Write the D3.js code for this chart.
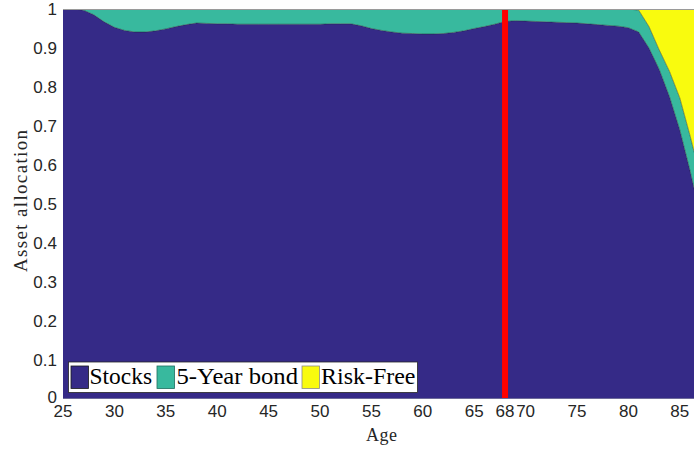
<!DOCTYPE html>
<html>
<head>
<meta charset="utf-8">
<script src="https://cdn.jsdelivr.net/npm/d3@7"></script>
<style>
  html, body { margin: 0; padding: 0; background: #fff; }
  svg { display: block; }
</style>
</head>
<body>
<svg id="chart" width="694" height="454"></svg>
<script>
// Life-cycle portfolio: share of wealth in each asset by age
const ages = d3.range(25, 88);
const stocks = [
  1.000, 1.000, 0.997, 0.985, 0.967, 0.953, 0.945, 0.941, 0.941, 0.944,
  0.949, 0.955, 0.960, 0.964, 0.963, 0.962, 0.962, 0.961, 0.961, 0.961,
  0.961, 0.961, 0.961, 0.961, 0.961, 0.961, 0.962, 0.962, 0.962, 0.957,
  0.950, 0.945, 0.941, 0.938, 0.937, 0.936, 0.936, 0.937, 0.940, 0.944,
  0.950, 0.955, 0.961, 0.968, 0.970, 0.969, 0.968, 0.967, 0.966, 0.965,
  0.964, 0.962, 0.960, 0.958, 0.956, 0.952, 0.941, 0.900, 0.845, 0.775,
  0.690, 0.585, 0.470
];
const bonds = [
  0.000, 0.000, 0.003, 0.015, 0.033, 0.047, 0.055, 0.059, 0.059, 0.056,
  0.051, 0.045, 0.040, 0.036, 0.037, 0.038, 0.038, 0.039, 0.039, 0.039,
  0.039, 0.039, 0.039, 0.039, 0.039, 0.039, 0.038, 0.038, 0.038, 0.043,
  0.050, 0.055, 0.059, 0.062, 0.063, 0.064, 0.064, 0.063, 0.060, 0.056,
  0.050, 0.045, 0.039, 0.032, 0.030, 0.031, 0.032, 0.033, 0.034, 0.035,
  0.036, 0.038, 0.040, 0.042, 0.044, 0.048, 0.056, 0.055, 0.050, 0.065,
  0.082, 0.090, 0.100
];
const riskFree = [
  0, 0, 0, 0, 0, 0, 0, 0, 0, 0,
  0, 0, 0, 0, 0, 0, 0, 0, 0, 0,
  0, 0, 0, 0, 0, 0, 0, 0, 0, 0,
  0, 0, 0, 0, 0, 0, 0, 0, 0, 0,
  0, 0, 0, 0, 0, 0, 0, 0, 0, 0,
  0, 0, 0, 0, 0, 0, 0.003, 0.045, 0.105, 0.160,
  0.228, 0.325, 0.430
];
const seriesNames = ["Stocks", "5-Year bond", "Risk-Free"];
const seriesColors = ["#352a87", "#38b99e", "#f9fb0e"];
const retirementAge = 68;
const xTicks = [25, 30, 35, 40, 45, 50, 55, 60, 65, 68, 70, 75, 80, 85];
const yTicks = d3.range(0, 11).map(d => d / 10);

const svg = d3.select("#chart");
const margin = { left: 63, top: 9, bottom: 55 };
const W = 694, H = 454;
const plotBottom = H - margin.bottom;
const xMax = 86.38;

const x = d3.scaleLinear().domain([25, xMax]).range([margin.left, W]);
const y = d3.scaleLinear().domain([0, 1]).range([plotBottom, margin.top]);

const table = ages.map((a, i) => ({ age: a, s: stocks[i], b: bonds[i], r: riskFree[i] }));
const stack = d3.stack().keys(["s", "b", "r"]);
const layers = stack(table);

svg.append("defs").append("clipPath").attr("id", "plotClip")
  .append("rect")
  .attr("x", margin.left).attr("y", margin.top)
  .attr("width", W - margin.left).attr("height", plotBottom - margin.top);

const g = svg.append("g").attr("clip-path", "url(#plotClip)");

const area = d3.area()
  .x(d => x(d.data.age))
  .y0(d => y(d[0]))
  .y1(d => y(d[1]));

g.selectAll("path.layer")
  .data(layers)
  .join("path")
  .attr("class", "layer")
  .attr("d", area)
  .attr("fill", (d, i) => seriesColors[i]);

// boundaries between layers
const edge = d3.line().x(d => x(d.data.age)).y(d => y(d[1]));
g.selectAll("path.edge")
  .data(layers)
  .join("path")
  .attr("class", "edge")
  .attr("d", edge)
  .attr("fill", "none")
  .attr("stroke", "#1a1a1a")
  .attr("stroke-opacity", 0.7)
  .attr("stroke-width", 0.6);

// retirement marker
g.append("line")
  .attr("x1", x(retirementAge)).attr("x2", x(retirementAge))
  .attr("y1", margin.top).attr("y2", plotBottom)
  .attr("stroke", "#ff0000")
  .attr("stroke-width", 6);

// axes box
svg.append("line")
  .attr("x1", margin.left).attr("x2", W)
  .attr("y1", margin.top + 0.5).attr("y2", margin.top + 0.5)
  .attr("stroke", "#9a9a9a").attr("stroke-width", 1);
svg.append("line")
  .attr("x1", margin.left).attr("x2", W)
  .attr("y1", plotBottom - 0.5).attr("y2", plotBottom - 0.5)
  .attr("stroke", "#6d6a9a").attr("stroke-width", 1);

// tick labels
const tickFont = "'Liberation Sans', Arial, sans-serif";
svg.append("g").selectAll("text")
  .data(xTicks)
  .join("text")
  .attr("x", d => x(d))
  .attr("y", 417)
  .attr("text-anchor", "middle")
  .attr("font-family", tickFont)
  .attr("font-size", 17)
  .attr("fill", "#262626")
  .text(d => d);

svg.append("g").selectAll("text")
  .data(yTicks)
  .join("text")
  .attr("x", 57)
  .attr("y", d => y(d) + (d === 0 ? 4 : 6))
  .attr("text-anchor", "end")
  .attr("font-family", tickFont)
  .attr("font-size", 17)
  .attr("fill", "#262626")
  .text(d => d === 0 ? "0" : d === 1 ? "1" : d3.format(".1f")(d));

// axis titles
const serif = "'Liberation Serif', 'Times New Roman', serif";
svg.append("text")
  .attr("x", (margin.left + 700) / 2)
  .attr("y", 441)
  .attr("text-anchor", "middle")
  .attr("font-family", serif)
  .attr("font-size", 18)
  .attr("fill", "#262626")
  .attr("textLength", 31)
  .text("Age");

svg.append("text")
  .attr("transform", "translate(27,201) rotate(-90)")
  .attr("text-anchor", "middle")
  .attr("font-family", serif)
  .attr("font-size", 19)
  .attr("fill", "#262626")
  .attr("textLength", 142)
  .text("Asset allocation");

// legend
const legend = svg.append("g");
legend.append("rect")
  .attr("x", 68.5).attr("y", 362)
  .attr("width", 349).attr("height", 30.5)
  .attr("fill", "#fff")
  .attr("stroke", "#262626")
  .attr("stroke-width", 0.8);

const legendItems = [
  { sx: 71, tx: 89.5, tw: 62.5 },
  { sx: 157, tx: 176.5, tw: 121.5 },
  { sx: 302, tx: 321, tw: 94.5 }
];
const swatchEdges = ["#1a1a1a", "#1f6e5e", "#8a8a8a"];
legendItems.forEach((it, i) => {
  legend.append("rect")
    .attr("x", it.sx).attr("y", 366)
    .attr("width", 17.5).attr("height", 22.5)
    .attr("fill", seriesColors[i])
    .attr("stroke", swatchEdges[i])
    .attr("stroke-width", 0.8);
  legend.append("text")
    .attr("x", it.tx).attr("y", 383.5)
    .attr("font-family", serif)
    .attr("font-size", 23)
    .attr("fill", "#000")
    .attr("textLength", it.tw)
    .attr("lengthAdjust", "spacingAndGlyphs")
    .text(seriesNames[i]);
});
</script>
</body>
</html>
